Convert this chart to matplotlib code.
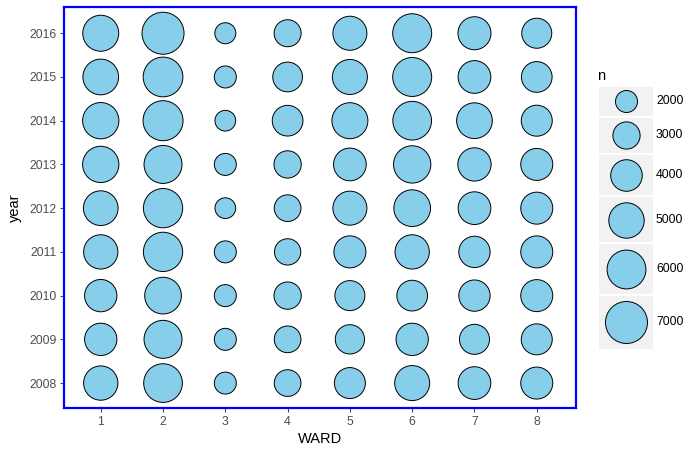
import matplotlib.pyplot as plt
import numpy as np
from matplotlib.patches import Rectangle

plt.rcParams['font.family'] = ['Liberation Sans', 'DejaVu Sans']

wards = [1, 2, 3, 4, 5, 6, 7, 8]
years = [2008, 2009, 2010, 2011, 2012, 2013, 2014, 2015, 2016]
# n per year (rows) and ward (columns)
n_2008 = [4700, 5960, 2000, 2890, 3860, 4900, 4290, 4110]
n_2009 = [4190, 5750, 2000, 2890, 3460, 4190, 3630, 3860]
n_2010 = [4190, 5370, 2000, 3020, 3630, 3790, 3940, 4110]
n_2011 = [4700, 6140, 2000, 2810, 4110, 4700, 3940, 4110]
n_2012 = [4810, 6140, 1780, 2890, 4630, 5370, 4290, 4110]
n_2013 = [5260, 5750, 2000, 3020, 4290, 5550, 4440, 4110]
n_2014 = [5260, 6360, 1780, 3790, 5170, 5960, 5090, 3860]
n_2015 = [5090, 6270, 2000, 3560, 4900, 6050, 4290, 3790]
n_2016 = [5170, 7000, 1830, 2960, 4630, 6050, 4370, 3630]
legend_n = [2000, 3000, 4000, 5000, 6000, 7000]

counts = np.array([n_2008, n_2009, n_2010, n_2011, n_2012,
                   n_2013, n_2014, n_2015, n_2016])


def diam_px(n):
    """diameter in pixels, area grows linearly with n"""
    return np.sqrt(484 + 0.256 * (np.asarray(n, dtype=float) - 2000))


def size_pt2(n):
    return (diam_px(n) * 0.72) ** 2


fig = plt.figure(figsize=(7, 4.53), dpi=100)
ax = fig.add_axes([64 / 700, 45 / 453, 512 / 700, 401 / 453])

xx, yy = np.meshgrid(wards, years)
ax.scatter(xx.ravel(), yy.ravel(), s=size_pt2(counts.ravel()),
           color='skyblue', edgecolor='black', linewidth=0.7, zorder=3)

ax.set_xlim(0.41, 8.63)
ax.set_ylim(2007.43, 2016.6)
ax.set_xticks(wards)
ax.set_yticks(years)
ax.tick_params(colors='#4d4d4d', labelsize=8.8, length=3, width=0.8,
               labelcolor='#4d4d4d', pad=2.5)
for s in ax.spines.values():
    s.set_color('blue')
    s.set_linewidth(1.6)
ax.set_xlabel('WARD', fontsize=10.5, labelpad=3)
ax.set_ylabel('year', fontsize=10.5, labelpad=5)

# legend for n, drawn by hand in pixel coordinates
lax = fig.add_axes([0, 0, 1, 1], zorder=5)
lax.set_xlim(0, 700)
lax.set_ylim(453, 0)
lax.axis('off')
lax.text(597, 76, 'n', fontsize=10.5, va='center', ha='left')
top = 87
for v in legend_n:
    d = diam_px(v)
    h = 1.25 * d + 1
    lax.add_patch(Rectangle((599, top), 54, h, facecolor='#f2f2f2',
                            edgecolor='none'))
    cy = top + h / 2
    lax.scatter([626], [cy], s=size_pt2(v), color='skyblue',
                edgecolor='black', linewidth=0.7, zorder=3)
    lax.text(656, cy, str(v), fontsize=8.8, va='center', ha='left')
    top += h + 2

fig.savefig('out.png', dpi=100)
